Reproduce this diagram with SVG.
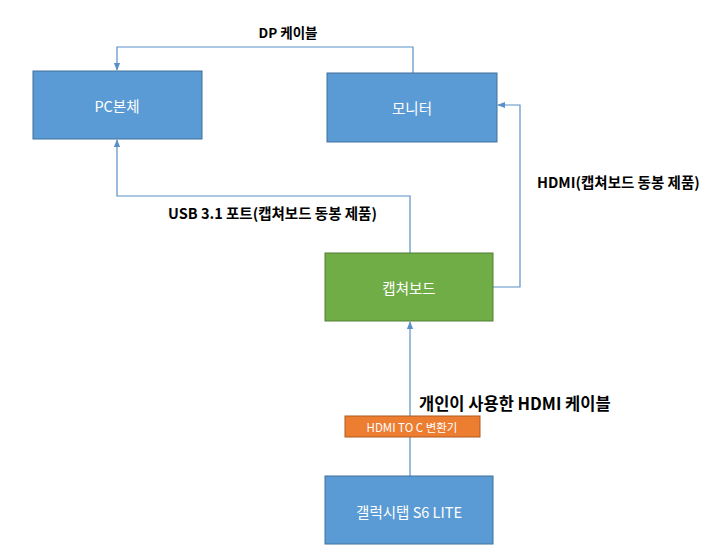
<svg xmlns="http://www.w3.org/2000/svg" width="718" height="554" viewBox="0 0 718 554">
<defs>
<marker id="arr" viewBox="0 0 10 10" refX="9" refY="5" markerWidth="8" markerHeight="8" markerUnits="userSpaceOnUse" orient="auto">
<path d="M0,1 L10,5 L0,9 z" fill="#5B8FC7"/>
</marker>
<style>
.box{stroke:#41719C;stroke-width:1}
.blue{fill:#5B9BD5}
.green{fill:#70AD47;stroke:#507E32}
.orange{fill:#ED7D31;stroke:#AE5A21}
.t{font-family:"Malgun Gothic","Noto Sans CJK KR",sans-serif;font-size:14.5px;fill:#fff;text-anchor:middle;dominant-baseline:central}
.lbl{font-family:"Malgun Gothic","Noto Sans CJK KR",sans-serif;font-size:14.5px;font-weight:bold;fill:#000}
.c{fill:none;stroke:#5B8FC7;stroke-width:1.2}
</style>
</defs>
<rect width="718" height="554" fill="#fff"/>
<g id="connectors">
<path class="c" d="M413,73 V47 H117 V70" marker-end="url(#arr)"/>
<path class="c" d="M410,253 V196 H117 V140" marker-end="url(#arr)"/>
<path class="c" d="M493,287 H520 V105 H498" marker-end="url(#arr)"/>
<path class="c" d="M410,476 V322" marker-end="url(#arr)"/>
</g>
<g id="pc">
<rect class="box blue" x="33" y="71" width="169" height="68"/>
<text class="t" x="117" y="105">PC본체</text>
</g>
<g id="monitor">
<rect class="box blue" x="327" y="73" width="170" height="69"/>
<text class="t" x="412" y="107">모니터</text>
</g>
<g id="capture">
<rect class="box green" x="325" y="253" width="168" height="68"/>
<text class="t" x="409" y="287">캡쳐보드</text>
</g>
<g id="galaxy">
<rect class="box blue" x="325" y="476" width="168" height="68"/>
<text class="t" x="409" y="511">갤럭시탭 S6 LITE</text>
</g>
<g id="converter">
<rect class="box orange" x="345" y="416" width="135" height="21"/>
<text class="t" x="412" y="427" style="font-size:11.5px">HDMI TO C 변환기</text>
</g>
<g id="labels">
<text class="lbl" x="288" y="38" text-anchor="middle" style="font-size:13.5px">DP 케이블</text>
<text class="lbl" x="537" y="188">HDMI(캡쳐보드 동봉 제품)</text>
<text class="lbl" x="168" y="219">USB 3.1 포트(캡쳐보드 동봉 제품)</text>
<text class="lbl" x="419" y="410" style="font-size:16.5px">개인이 사용한 HDMI 케이블</text>
</g>
</svg>
